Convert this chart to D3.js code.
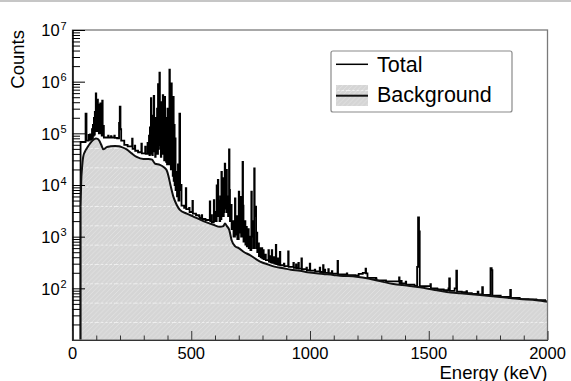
<!DOCTYPE html>
<html>
<head>
<meta charset="utf-8">
<script src="https://cdn.jsdelivr.net/npm/d3@7"></script>
<style>
  html, body { margin: 0; padding: 0; background: #fff; }
  svg { display: block; }
  text { font-family: "Liberation Sans", Arial, Helvetica, sans-serif; fill: #000; }
</style>
</head>
<body>
<svg id="chart" width="571" height="381"></svg>
<script>
// Axis ranges and labels
const xDomain = [0, 2000];
const yDomain = [10, 1e7];
const xTickValues = [0, 500, 1000, 1500, 2000];
const yTickExponents = [2, 3, 4, 5, 6, 7];
const xTitle = "Energy (keV)";
const yTitle = "Counts";
const seriesNames = ["Total", "Background"];

// Smooth background continuum: [energy keV, counts]
const backgroundSpectrum = [
  [34, 3.9e3], [37, 1.3e4], [40, 2.1e4], [45, 3.5e4], [52, 4.4e4], [60, 5.1e4],
  [70, 6.0e4], [80, 6.9e4], [90, 7.6e4], [99, 7.9e4], [106, 7.8e4], [113, 7.2e4],
  [121, 6.0e4], [130, 4.9e4], [137, 5.1e4], [144, 5.4e4], [160, 5.6e4], [179, 5.7e4],
  [195, 5.6e4], [207, 5.4e4], [228, 4.9e4], [249, 4.1e4], [270, 3.5e4], [298, 3.2e4],
  [320, 3.2e4], [335, 3.1e4], [347, 2.6e4], [368, 2.45e4], [385, 2.2e4], [396, 1.95e4],
  [404, 1.5e4], [411, 1.07e4], [425, 5.9e3], [439, 4.1e3], [452, 3.3e3], [481, 2.8e3],
  [509, 2.45e3], [551, 2.0e3], [593, 1.7e3], [621, 1.55e3], [635, 1.6e3], [642, 1.8e3],
  [650, 1.6e3], [660, 1.35e3], [670, 850], [685, 650], [700, 600], [720, 510],
  [747, 440], [790, 330], [818, 295], [850, 263], [888, 245], [920, 229], [958, 219],
  [990, 204], [1056, 190], [1098, 182], [1126, 176], [1196, 168], [1246, 155],
  [1295, 138], [1351, 121], [1408, 113], [1463, 105], [1520, 94], [1576, 85],
  [1632, 80], [1716, 74], [1800, 68], [1884, 62], [1954, 59], [2000, 55]
];

// Total spectrum as variable-width histogram bins: [bin low edge keV, counts]
const totalSpectrum = [
  [34, 6.8e4], [55, 2.4e5], [59, 7.2e4], [68, 9.3e4], [70, 7.5e4], [74, 9.5e4], [76, 7.6e4],
  [82, 1.2e5], [84, 8.0e4], [86, 1.45e5], [88, 9.0e4], [90, 2.0e5], [92, 9.5e4], [94, 2.6e5],
  [96, 1.1e5], [98, 5.9e5], [100, 1.2e5], [102, 3.5e5], [104, 1.1e5], [105, 4.5e5], [107, 1.3e5],
  [109, 2.5e5], [111, 1.0e5], [113, 3.6e5], [115, 1.1e5], [117, 3.8e5], [119, 1.0e5], [121, 2.0e5],
  [123, 9.0e4], [125, 4.3e5], [127, 1.0e5], [130, 1.4e5], [132, 8.3e4], [150, 9.0e4], [152, 8.3e4],
  [162, 8.8e4], [164, 8.3e4], [176, 9.0e4], [178, 8.2e4], [188, 8.0e4], [196, 1.6e5], [199, 3.3e5],
  [202, 1.2e5], [205, 7.2e4], [218, 6.0e4], [232, 5.6e4], [251, 7.9e4], [253, 5.0e4], [262, 5.8e4],
  [264, 4.6e4], [276, 4.3e4], [290, 6.3e4], [292, 4.1e4], [306, 5.5e4], [308, 4.0e4], [316, 6.5e4],
  [318, 4.0e4], [322, 9.0e4], [324, 3.8e4],
  [326, 1.3e5], [328, 4.0e4], [330, 4.8e5], [332, 5.0e4], [334, 1.6e5], [336, 3.8e4], [338, 2.2e5],
  [340, 4.5e4], [342, 5.3e5], [344, 6.0e4], [346, 1.5e5], [348, 3.5e4], [350, 2.0e5], [352, 4.0e4],
  [354, 1.6e5], [356, 3.0e5], [358, 4.0e4], [360, 9.0e5], [362, 5.0e4], [364, 2.5e5], [366, 1.5e6],
  [368, 6.0e4], [370, 3.0e5], [372, 3.5e4], [374, 4.0e5], [376, 4.0e4], [378, 2.2e5], [380, 5.5e5],
  [382, 4.0e4], [384, 2.0e5], [386, 3.0e4], [388, 5.1e5], [390, 4.0e4], [392, 1.8e5], [394, 2.8e4],
  [396, 2.0e5], [398, 2.5e4], [400, 3.0e5], [402, 3.0e4], [404, 2.0e5], [406, 2.5e4], [408, 1.7e6],
  [410, 4.0e4], [412, 5.0e5], [414, 2.0e4], [416, 9.3e5], [418, 3.0e4], [420, 2.0e5], [422, 1.5e4],
  [424, 5.1e5], [426, 1.2e4], [428, 1.45e5], [430, 1.0e4], [432, 8.0e4], [434, 8.0e3], [438, 1.8e4],
  [440, 6.0e3], [444, 2.5e4], [446, 5.0e3], [450, 2.4e5], [453, 8.0e3], [457, 1.0e4], [459, 4.0e3],
  [470, 3.6e3], [477, 8.7e3], [479, 3.4e3], [491, 3.6e3], [493, 3.0e3], [505, 4.9e3], [507, 2.8e3],
  [520, 2.6e3], [533, 2.5e3], [535, 2.3e3], [544, 2.6e3], [546, 2.2e3], [560, 2.1e3],
  [578, 4.8e3], [580, 2.0e3], [585, 2.6e3], [587, 1.9e3], [595, 5.1e3], [597, 2.0e3], [602, 3.0e3],
  [604, 2.0e3], [607, 9.8e3], [609, 2.5e3], [612, 1.26e4], [614, 2.8e3], [617, 5.0e3], [619, 2.0e3],
  [622, 6.0e3], [624, 2.2e3], [627, 1.8e4], [629, 3.0e3], [632, 1.35e4], [634, 2.5e3], [637, 6.0e3],
  [639, 3.0e3], [641, 2.6e4], [643, 3.5e3], [646, 8.0e3], [648, 1.95e4], [650, 3.0e3], [653, 6.0e3],
  [655, 2.5e3], [659, 4.9e4], [661, 8.0e3], [663, 2.0e3], [668, 4.1e3], [670, 1.4e3], [676, 2.0e3],
  [678, 1.0e3], [684, 5.5e3], [686, 1.1e3], [692, 2.5e3], [694, 900], [700, 7.4e3], [702, 1.2e3],
  [708, 5.9e3], [710, 1.0e3], [714, 3.0e3], [716, 2.8e4], [718, 4.0e3], [720, 800], [726, 2.0e3],
  [728, 700], [732, 1.55e3], [734, 650], [740, 1.4e3], [742, 600], [747, 1.0e3], [749, 550],
  [753, 7.4e3], [755, 1.0e3], [759, 2.0e3], [761, 600], [765, 2.1e4], [767, 2.5e3], [771, 3.8e3],
  [773, 600], [776, 1.2e3], [778, 500], [783, 740], [785, 420], [790, 600], [792, 400], [797, 600],
  [799, 380], [803, 550], [805, 370], [812, 450], [814, 350], [825, 550], [827, 330], [832, 420],
  [834, 320], [839, 550], [841, 310], [848, 400], [850, 300], [856, 690], [858, 295], [864, 380],
  [866, 285], [873, 510], [875, 280], [890, 300], [892, 270], [908, 520], [910, 260], [930, 310],
  [932, 250], [941, 290], [943, 245], [951, 310], [953, 240], [964, 380], [966, 235], [985, 250],
  [987, 225], [999, 300], [1001, 220], [1020, 230], [1022, 212], [1041, 250], [1043, 207],
  [1055, 280], [1057, 203], [1062, 230], [1064, 200], [1077, 235], [1079, 197], [1092, 215],
  [1094, 193], [1116, 340], [1118, 187], [1155, 195], [1157, 180], [1190, 178], [1205, 190],
  [1222, 200], [1234, 240], [1236, 195], [1242, 160], [1278, 155], [1280, 143], [1320, 136],
  [1375, 162], [1377, 125], [1384, 140], [1386, 124], [1403, 135], [1405, 118], [1440, 112],
  [1451, 260], [1455, 2.35e3], [1459, 1.26e3], [1462, 110], [1507, 120], [1509, 100], [1536, 96],
  [1538, 95], [1563, 92], [1583, 100], [1586, 155], [1589, 89], [1609, 100], [1616, 220],
  [1619, 86], [1639, 84], [1659, 88], [1661, 81], [1680, 80], [1682, 78], [1706, 86], [1709, 76],
  [1725, 105], [1728, 75], [1760, 245], [1765, 225], [1768, 72], [1801, 72], [1803, 68],
  [1843, 93], [1846, 65], [1882, 64], [1884, 62], [1920, 61], [1953, 60], [1955, 59], [1990, 56]
];

const svg = d3.select("#chart");
const W = 571, H = 381;
const frame = { left: 72.5, right: 547.5, top: 30, bottom: 340 };

const x = d3.scaleLinear().domain(xDomain).range([frame.left, frame.right]);
const y = d3.scaleLog().domain(yDomain).range([frame.bottom, frame.top]);

// thin rule along the top edge of the canvas
svg.append("line").attr("x1", 0).attr("x2", W).attr("y1", 1).attr("y2", 1)
  .attr("stroke", "#c6c6c6").attr("stroke-width", 2);

const defs = svg.append("defs");
defs.append("clipPath").attr("id", "plotClip")
  .append("rect").attr("x", frame.left).attr("y", frame.top)
  .attr("width", frame.right - frame.left).attr("height", frame.bottom - frame.top);

// light grey hatched fill used for the background histogram
const tile = 19.33;
const pat = defs.append("pattern").attr("id", "bgFill")
  .attr("patternUnits", "userSpaceOnUse")
  .attr("x", 0).attr("y", 12.7).attr("width", tile).attr("height", tile);
pat.append("rect").attr("width", tile).attr("height", tile).attr("fill", "#d5d5d5");
d3.range(-4, 5).forEach(k => {
  pat.append("line")
    .attr("x1", k * tile / 4).attr("y1", tile)
    .attr("x2", k * tile / 4 + tile).attr("y2", 0)
    .attr("stroke", "#e2e2e2").attr("stroke-width", 0.9);
});
pat.append("line").attr("x1", 0).attr("x2", tile).attr("y1", 0.5).attr("y2", 0.5)
  .attr("stroke", "#f0f0f0").attr("stroke-width", 1).attr("stroke-dasharray", "2.5 1.8");

const plot = svg.append("g").attr("clip-path", "url(#plotClip)");

// Total histogram (step line)
const lastBin = totalSpectrum[totalSpectrum.length - 1];
const totalPoints = [[totalSpectrum[0][0], yDomain[0]], ...totalSpectrum, [xDomain[1], lastBin[1]]];
const stepLine = d3.line()
  .x(d => x(d[0])).y(d => y(d[1]))
  .curve(d3.curveStepAfter);
plot.append("path").datum(totalPoints)
  .attr("d", stepLine)
  .attr("fill", "none").attr("stroke", "#000").attr("stroke-width", 1.8);

// Background: filled area with dark outline
const bgArea = d3.area()
  .x(d => x(d[0])).y0(y(yDomain[0])).y1(d => y(d[1]))
  .curve(d3.curveMonotoneX);
plot.append("path").datum(backgroundSpectrum)
  .attr("d", bgArea).attr("fill", "url(#bgFill)").attr("stroke", "none");

const bgLine = d3.line().x(d => x(d[0])).y(d => y(d[1])).curve(d3.curveMonotoneX);
plot.append("path").datum(backgroundSpectrum)
  .attr("d", bgLine).attr("fill", "none").attr("stroke", "#111").attr("stroke-width", 2);
plot.append("path").datum([[backgroundSpectrum[0][0], yDomain[0]], backgroundSpectrum[0]])
  .attr("d", d3.line().x(d => x(d[0])).y(d => y(d[1])))
  .attr("stroke", "#111").attr("stroke-width", 2);

// Frame
svg.append("rect").attr("x", frame.left).attr("y", frame.top)
  .attr("width", frame.right - frame.left).attr("height", frame.bottom - frame.top)
  .attr("fill", "none").attr("stroke", "#7a7a7a").attr("stroke-width", 1.3);

// Y axis ticks (pointing into the plot)
const yMajor = d3.range(1, 8).map(e => Math.pow(10, e));
const yMinor = [];
d3.range(1, 7).forEach(e => d3.range(2, 10).forEach(m => yMinor.push(m * Math.pow(10, e))));

const yAxisMajor = svg.append("g").attr("transform", `translate(${frame.left},0)`)
  .call(d3.axisLeft(y).tickValues(yMajor).tickSize(-12.5).tickSizeOuter(0).tickFormat(""));
const yAxisMinor = svg.append("g").attr("transform", `translate(${frame.left},0)`)
  .call(d3.axisLeft(y).tickValues(yMinor).tickSize(-7.5).tickSizeOuter(0).tickFormat(""));
[yAxisMajor, yAxisMinor].forEach(g => {
  g.select(".domain").attr("stroke", "#000").attr("stroke-width", 1);
  g.selectAll(".tick line").attr("stroke", "#000").attr("stroke-width", 1);
});

// X axis ticks (pointing up into the plot)
const xMinor = d3.range(0, 2001, 100).filter(v => v % 500 !== 0);
const xAxisMajor = svg.append("g").attr("transform", `translate(0,${frame.bottom})`)
  .call(d3.axisBottom(x).tickValues(xTickValues).tickSize(-9).tickSizeOuter(0).tickFormat(""));
const xAxisMinor = svg.append("g").attr("transform", `translate(0,${frame.bottom})`)
  .call(d3.axisBottom(x).tickValues(xMinor).tickSize(-4.5).tickSizeOuter(0).tickFormat(""));
[xAxisMajor, xAxisMinor].forEach(g => {
  g.select(".domain").attr("stroke", "#333").attr("stroke-width", 1);
  g.selectAll(".tick line").attr("stroke", "#333").attr("stroke-width", 1);
});

// X tick labels
svg.append("g").selectAll("text").data(xTickValues).join("text")
  .attr("x", d => x(d)).attr("y", 358.5)
  .attr("text-anchor", "middle").attr("font-size", 16.5)
  .text(d => d);

// Y tick labels as powers of ten
const yLab = svg.append("g").selectAll("text").data(yTickExponents).join("text")
  .attr("x", 66.5).attr("y", e => y(Math.pow(10, e)) + 6.3)
  .attr("text-anchor", "end").attr("font-size", 16.5);
yLab.append("tspan").text("10");
yLab.append("tspan").attr("font-size", 11).attr("dy", -6.5).attr("dx", 0.8).text(e => e);

// Axis titles
svg.append("text").attr("x", frame.right).attr("y", 378.5)
  .attr("text-anchor", "end").attr("font-size", 18.5).text(xTitle);
svg.append("text").attr("transform", `translate(23.5,${frame.top}) rotate(-90)`)
  .attr("text-anchor", "end").attr("font-size", 18.5).text(yTitle);

// Legend
const legend = svg.append("g");
legend.append("rect").attr("x", 331).attr("y", 51).attr("width", 181).attr("height", 61)
  .attr("rx", 2).attr("fill", "#fff").attr("stroke", "#8a8a8a").attr("stroke-width", 1.2);
legend.append("line").attr("x1", 336).attr("x2", 368).attr("y1", 64.3).attr("y2", 64.3)
  .attr("stroke", "#000").attr("stroke-width", 1.5);
legend.append("rect").attr("x", 336).attr("y", 85).attr("width", 32).attr("height", 21)
  .attr("fill", "url(#bgFill)");
legend.append("line").attr("x1", 336).attr("x2", 368).attr("y1", 95.7).attr("y2", 95.7)
  .attr("stroke", "#111").attr("stroke-width", 2);
legend.selectAll("text.entry").data(seriesNames).join("text").attr("class", "entry")
  .attr("x", 377).attr("y", (d, i) => [71.8, 101.8][i])
  .attr("font-size", 21.5).text(d => d);
</script>
</body>
</html>
